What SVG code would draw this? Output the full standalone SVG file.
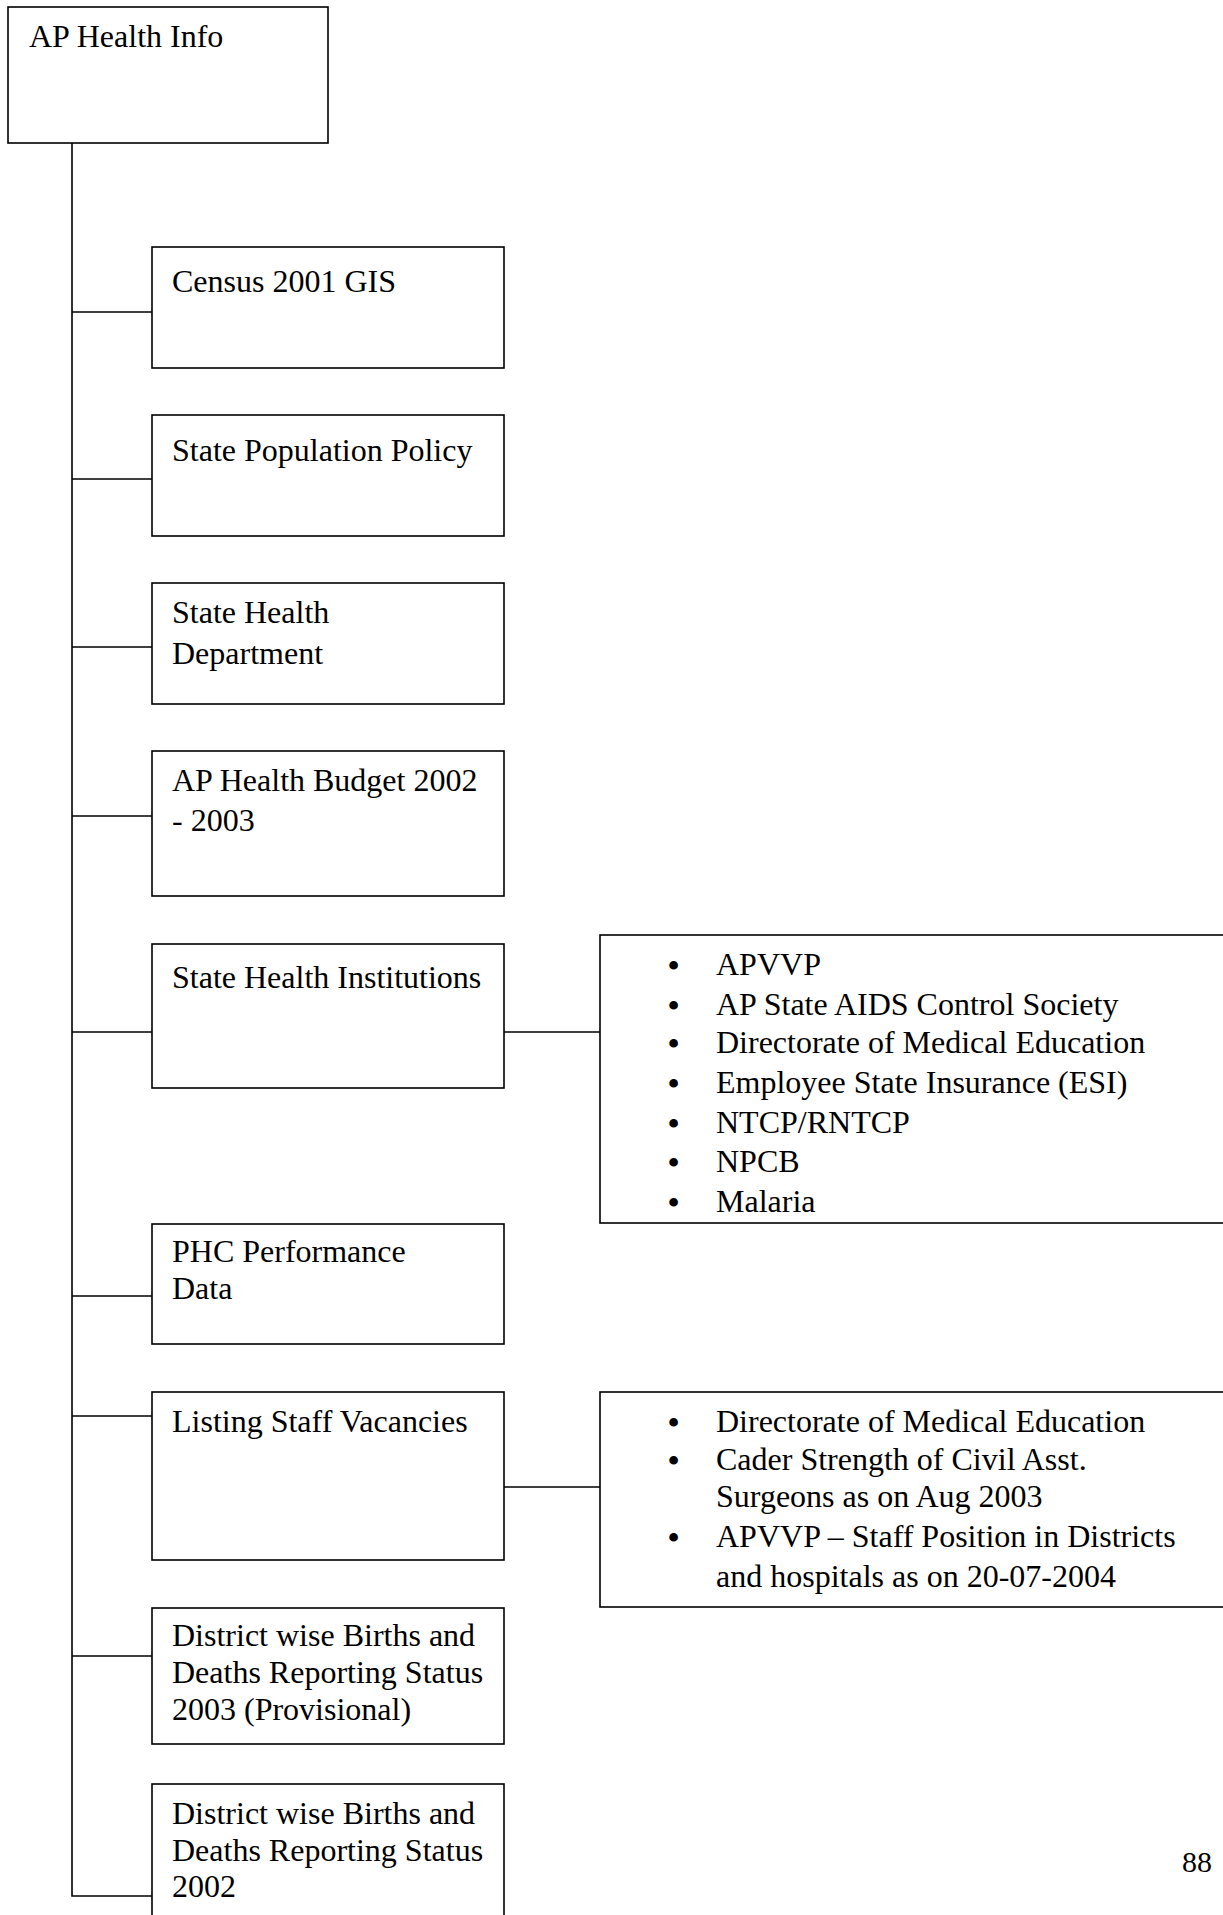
<svg xmlns="http://www.w3.org/2000/svg" width="1223" height="1915" viewBox="0 0 1223 1915">
<style>
.box{fill:#fff;stroke:#000;stroke-width:1.6}
.ln{fill:none;stroke:#000;stroke-width:1.6}
text{font-family:"Liberation Serif","Times New Roman",serif;font-size:32px;fill:#000}
.b{font-weight:bold}
</style>
<rect width="1223" height="1915" fill="#fff"/>
<g id="connectors">
<path class="ln" d="M72 143V1896H152"/>
<path class="ln" d="M72 312H152M72 479H152M72 647H152M72 816H152M72 1032H152M72 1296H152M72 1416H152M72 1656H152"/>
<path class="ln" d="M504 1032H600M504 1487H600"/>
</g>
<g id="root"><rect class="box" x="8" y="7" width="320" height="136"/><text x="29" y="47">AP Health Info</text></g>
<g id="census"><rect class="box" x="152" y="247" width="352" height="121"/><text x="172" y="292">Census 2001 GIS</text></g>
<g id="population"><rect class="box" x="152" y="415" width="352" height="121"/><text x="172" y="461">State Population Policy</text></g>
<g id="healthdept"><rect class="box" x="152" y="583" width="352" height="121"/><text x="172" y="623">State Health</text><text x="172" y="664">Department</text></g>
<g id="budget"><rect class="box" x="152" y="751" width="352" height="145"/><text x="172" y="791">AP Health Budget 2002</text><text x="172" y="831">- 2003</text></g>
<g id="institutions"><rect class="box" x="152" y="944" width="352" height="144"/><text x="172" y="988">State Health Institutions</text></g>
<g id="phc"><rect class="box" x="152" y="1224" width="352" height="120"/><text x="172" y="1262">PHC Performance</text><text x="172" y="1299">Data</text></g>
<g id="vacancies"><rect class="box" x="152" y="1392" width="352" height="168"/><text x="172" y="1432">Listing Staff Vacancies</text></g>
<g id="births2003"><rect class="box" x="152" y="1608" width="352" height="136"/><text x="172" y="1646">District wise Births and</text><text x="172" y="1683">Deaths Reporting Status</text><text x="172" y="1720">2003 (Provisional)</text></g>
<g id="births2002"><rect class="box" x="152" y="1784" width="352" height="160"/><text x="172" y="1824">District wise Births and</text><text x="172" y="1861">Deaths Reporting Status</text><text x="172" y="1897">2002</text></g>
<g id="institutions-list"><rect class="box" x="600" y="935" width="640" height="288"/>
<text><tspan class="b" x="668" y="976">•</tspan><tspan x="716" y="975">APVVP</tspan><tspan class="b" x="668" y="1016">•</tspan><tspan x="716" y="1015">AP State AIDS Control Society</tspan><tspan class="b" x="668" y="1054">•</tspan><tspan x="716" y="1053">Directorate of Medical Education</tspan><tspan class="b" x="668" y="1094">•</tspan><tspan x="716" y="1093">Employee State Insurance (ESI)</tspan><tspan class="b" x="668" y="1134">•</tspan><tspan x="716" y="1133">NTCP/RNTCP</tspan><tspan class="b" x="668" y="1173">•</tspan><tspan x="716" y="1172">NPCB</tspan><tspan class="b" x="668" y="1213">•</tspan><tspan x="716" y="1212">Malaria</tspan></text>
</g>
<g id="vacancies-list"><rect class="box" x="600" y="1392" width="640" height="215"/>
<text><tspan class="b" x="668" y="1433">•</tspan><tspan x="716" y="1432">Directorate of Medical Education</tspan><tspan class="b" x="668" y="1471">•</tspan><tspan x="716" y="1470">Cader Strength of Civil Asst.</tspan><tspan x="716" y="1507">Surgeons as on Aug 2003</tspan><tspan class="b" x="668" y="1548">•</tspan><tspan x="716" y="1547">APVVP – Staff Position in Districts</tspan><tspan x="716" y="1587">and hospitals as on 20-07-2004</tspan></text>
</g>
<text id="page" x="1182" y="1872" style="font-size:30px">88</text>
</svg>
